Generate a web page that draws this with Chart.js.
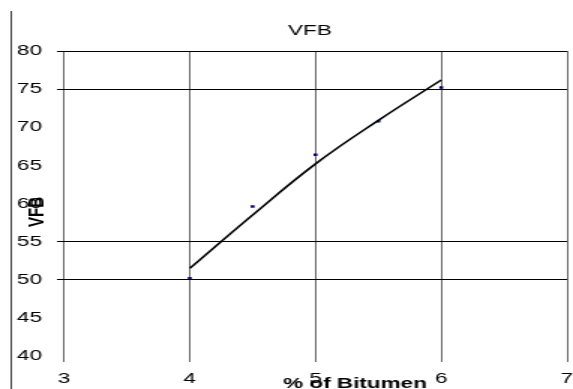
<!DOCTYPE html>
<html><head><meta charset="utf-8">
<script src="https://cdn.jsdelivr.net/npm/chart.js@4/dist/chart.umd.min.js"></script>
<style>html,body{margin:0;padding:0;background:#fff;overflow:hidden}</style></head>
<body><canvas id="c" width="382" height="389" style="display:block;width:573px;height:389px"></canvas>
<script>
const bitumen = [4, 4.5, 5, 5.5, 6];
const vfbValues = [50.2, 59.6, 66.4, 70.8, 75.2];
const trendValues = [51.5, 58.5, 65.2, 70.9, 76.2];
const xTicks = [3, 4, 5, 6, 7];
const yTicks = [40, 45, 50, 55, 60, 65, 70, 75, 80];
const shownHorizontalLines = [50, 55, 75, 80];
const chartTitle = 'VFB';
const xTitle = '% of Bitumen';
const yTitle = 'VFB';

const FONT = '"Liberation Sans", Arial, sans-serif';

const decor = {
  id: 'decor',
  afterDraw(chart) {
    const ctx = chart.ctx;
    ctx.save();
    ctx.strokeStyle = '#444';
    ctx.lineWidth = 1;
    ctx.beginPath();
    ctx.moveTo(7.5, 11);
    ctx.lineTo(7.5, 389);
    ctx.stroke();
    ctx.fillStyle = '#000';
    ctx.textAlign = 'center';
    ctx.textBaseline = 'alphabetic';
    ctx.font = '15px ' + FONT;
    ctx.fillText(chartTitle, 206.7, 35);
    ctx.font = 'bold 15px ' + FONT;
    ctx.fillText(xTitle, 236.7, 388);
    ctx.translate(28.7, 212);
    ctx.rotate(-Math.PI / 2);
    ctx.fillText(yTitle, 0, 0);
    ctx.restore();
  }
};

new Chart(document.getElementById('c'), {
  type: 'scatter',
  data: {
    datasets: [
      {
        label: 'Trend',
        data: bitumen.map((x, i) => ({x: x, y: trendValues[i]})),
        showLine: true,
        borderColor: '#000',
        borderWidth: 1.6,
        pointRadius: 0,
        tension: 0.4,
        fill: false
      },
      {
        label: 'VFB',
        data: bitumen.map((x, i) => ({x: x, y: vfbValues[i]})),
        showLine: false,
        pointStyle: 'rect',
        pointRadius: 1.8,
        pointBackgroundColor: '#000070',
        pointBorderWidth: 0
      }
    ]
  },
  options: {
    responsive: false,
    animation: false,
    devicePixelRatio: 1,
    layout: {padding: {top: 51, right: 2.5, bottom: 0, left: 0}},
    plugins: {legend: {display: false}, title: {display: false}, tooltip: {enabled: false}},
    scales: {
      x: {
        type: 'linear', min: 3, max: 7,
        afterBuildTicks: s => { s.ticks = xTicks.map(v => ({value: v})); },
        afterFit: s => { s.height = 33; s.paddingLeft = 0; s.paddingRight = 0; },
        border: {display: false},
        grid: {color: '#666', lineWidth: 1, tickLength: 6},
        ticks: {padding: 8, color: '#000', maxRotation: 0, font: {family: FONT, size: 15}}
      },
      y: {
        min: 40, max: 80,
        afterBuildTicks: s => { s.ticks = yTicks.map(v => ({value: v})); },
        afterFit: s => { s.width = 42.67; s.paddingTop = 0; s.paddingBottom = 0; },
        border: {display: false},
        grid: {
          color: c => (c.tick && shownHorizontalLines.includes(c.tick.value)) ? '#000' : 'rgba(0,0,0,0)',
          lineWidth: 1, tickLength: 4.7
        },
        ticks: {padding: 10, color: '#000', font: {family: FONT, size: 15}}
      }
    }
  },
  plugins: [decor]
});
</script>
</body></html>
